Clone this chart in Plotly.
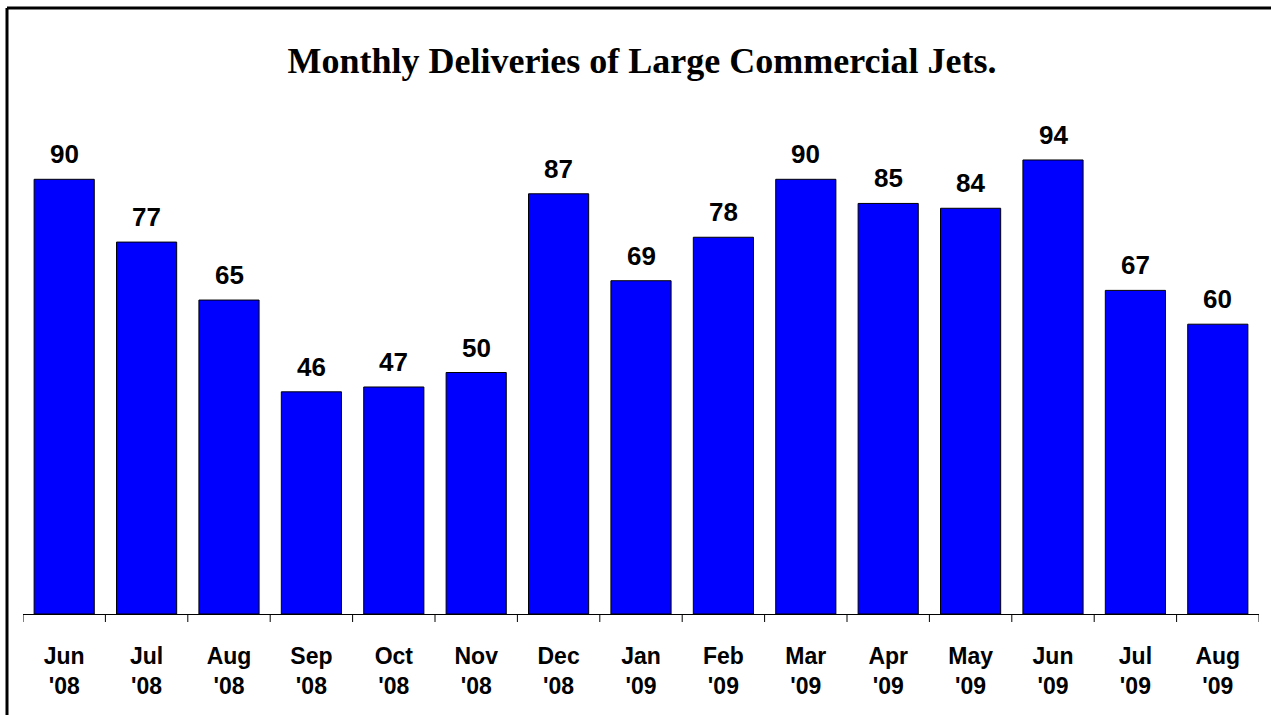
import plotly.graph_objects as go

# Monthly deliveries of large commercial jets, Jun 2008 - Aug 2009
months = ["Jun", "Jul", "Aug", "Sep", "Oct", "Nov", "Dec",
          "Jan", "Feb", "Mar", "Apr", "May", "Jun", "Jul", "Aug"]
years = ["'08", "'08", "'08", "'08", "'08", "'08", "'08",
         "'09", "'09", "'09", "'09", "'09", "'09", "'09", "'09"]
deliveries = [90, 77, 65, 46, 47, 50, 87, 69, 78, 90, 85, 84, 94, 67, 60]

W, H = 1271, 715
ML, MR, MT, MB = 23, 12, 131, 101

x_idx = list(range(len(months)))
tick_text = [f"{m}<br>{y}" for m, y in zip(months, years)]

fig = go.Figure()
fig.add_trace(go.Bar(
    x=x_idx,
    y=deliveries,
    marker=dict(color="#0000FF", line=dict(color="#000000", width=1)),
    hoverinfo="skip",
))

# value labels above each bar
for i, v in zip(x_idx, deliveries):
    fig.add_annotation(
        x=i, y=v, xref="x", yref="y", text=f"<b>{v}</b>", showarrow=False,
        yanchor="bottom", yshift=8,
        font=dict(family="Liberation Sans, Arial, sans-serif", size=26, color="#000000"),
    )

# outer frame (top and left edges visible)
pw = W - ML - MR
ph = H - MT - MB
fx0 = (7 - ML) / pw
fy1 = (H - MB - 8) / ph
fig.add_shape(type="line", xref="paper", yref="paper",
              x0=fx0, x1=1.2, y0=fy1, y1=fy1,
              line=dict(color="#000000", width=3))
fig.add_shape(type="line", xref="paper", yref="paper",
              x0=fx0, x1=fx0, y0=fy1, y1=-0.5,
              line=dict(color="#000000", width=3))

fig.update_layout(
    width=W, height=H,
    margin=dict(l=ML, r=MR, t=MT, b=MB, pad=0),
    paper_bgcolor="#FFFFFF",
    plot_bgcolor="#FFFFFF",
    bargap=0.27,
    showlegend=False,
    title=dict(
        text="<b>Monthly Deliveries of Large Commercial Jets.</b>",
        x=(642 - ML) / pw, xref="paper", xanchor="center",
        y=1 - 60 / H, yref="container", yanchor="middle",
        font=dict(family="Liberation Serif, Times New Roman, serif", size=36, color="#000000"),
    ),
    font=dict(family="Liberation Sans, Arial, sans-serif", color="#000000"),
)

fig.update_xaxes(
    type="linear",
    range=[-0.5, len(months) - 0.5],
    tickmode="array",
    tickvals=x_idx,
    ticktext=[f"<b>{t}</b>" for t in tick_text],
    tickfont=dict(family="Liberation Sans, Arial, sans-serif", size=23, color="#000000"),
    ticks="",
    showline=True, linecolor="#000000", linewidth=1,
    showgrid=False, zeroline=False,
    ticklabelstandoff=21,
)

# boundary ticks between categories
for b in range(len(months) + 1):
    fig.add_shape(type="line", xref="x", yref="paper",
                  x0=b - 0.5, x1=b - 0.5, y0=0, y1=-8 / ph,
                  line=dict(color="#000000", width=1))

fig.update_yaxes(
    range=[0, 100],
    visible=False,
    showgrid=False, zeroline=False,
)

fig.write_html("out.html")
